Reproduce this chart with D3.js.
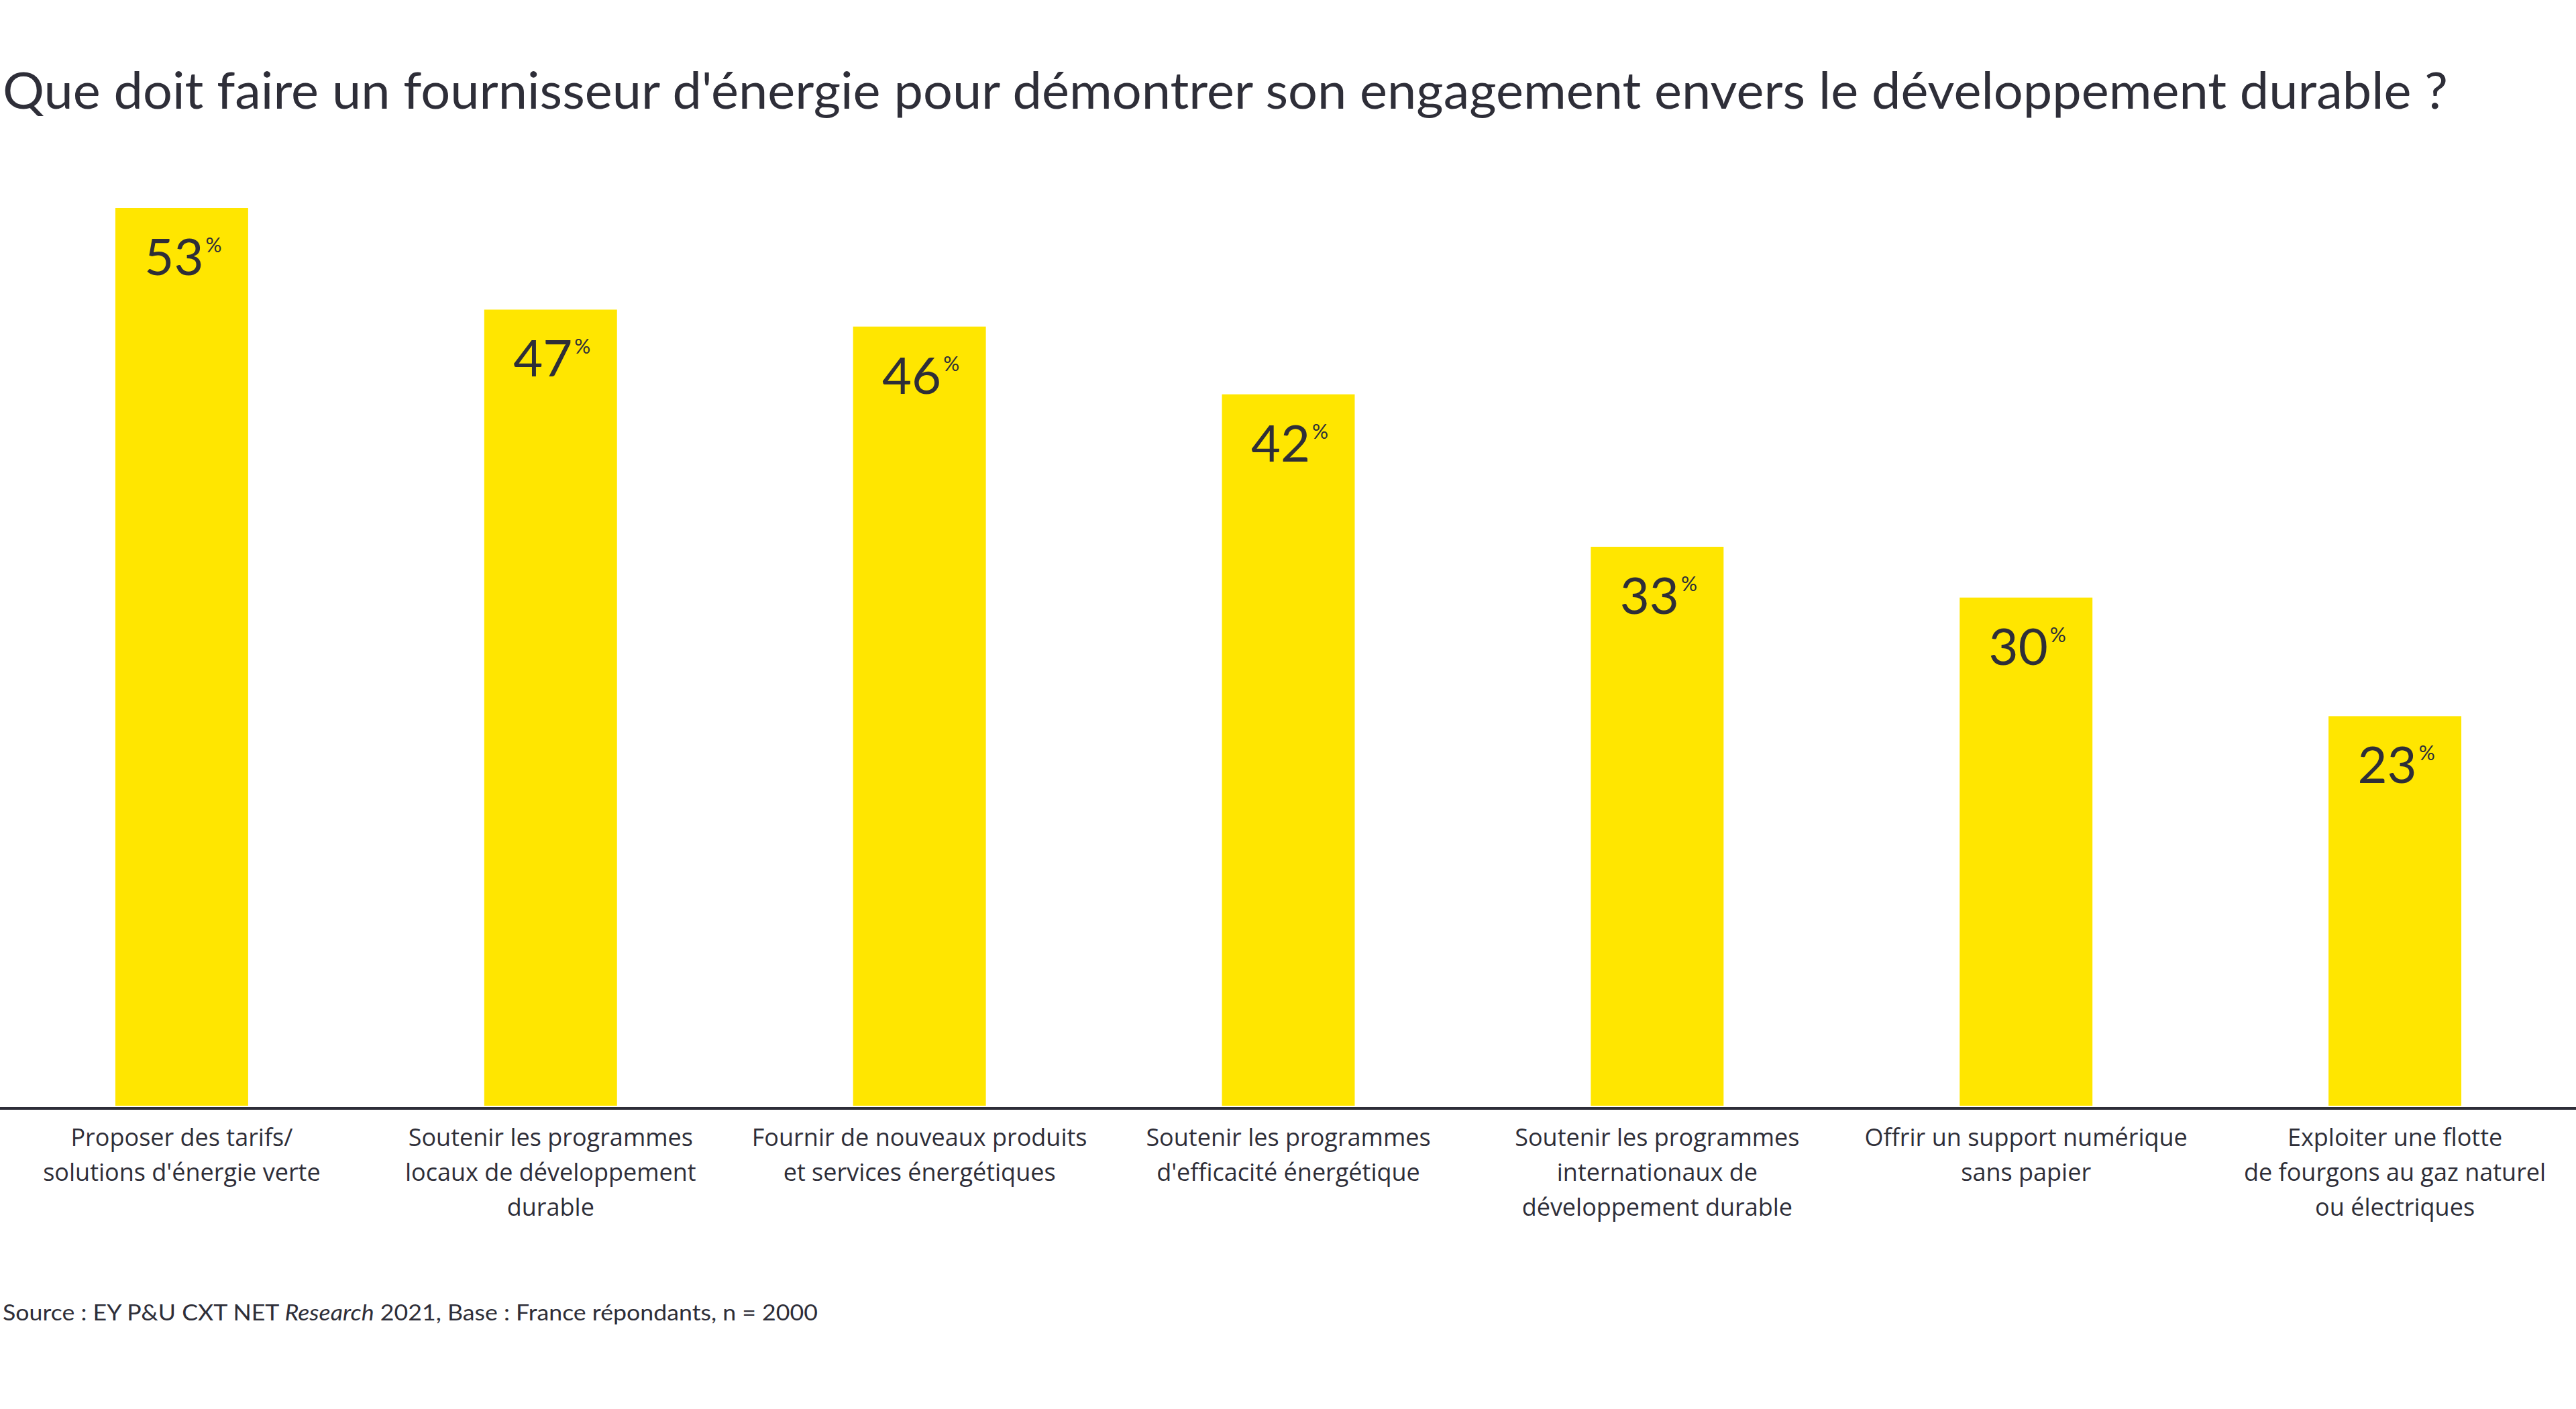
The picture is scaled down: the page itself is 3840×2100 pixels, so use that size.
<!DOCTYPE html>
<html>
<head>
<meta charset="utf-8">
<script src="https://cdn.jsdelivr.net/npm/d3@7"></script>
<style>
  html, body { margin: 0; padding: 0; background: #ffffff; }
  svg { display: block; }
</style>
</head>
<body>
<svg id="chart" width="3840" height="2100"></svg>
<script>
const titleText = "Que doit faire un fournisseur d'énergie pour démontrer son engagement envers le développement durable ?";
const categories = [
  ["Proposer des tarifs/", "solutions d'énergie verte"],
  ["Soutenir les programmes", "locaux de développement", "durable"],
  ["Fournir de nouveaux produits", "et services énergétiques"],
  ["Soutenir les programmes", "d'efficacité énergétique"],
  ["Soutenir les programmes", "internationaux de", "développement durable"],
  ["Offrir un support numérique", "sans papier"],
  ["Exploiter une flotte", "de fourgons au gaz naturel", "ou électriques"]
];
const values = [53, 47, 46, 42, 33, 30, 23];
const valueSuffix = "%";
const sourceParts = [
  {text: "Source : EY P&U CXT NET ", italic: false},
  {text: "Research", italic: true},
  {text: " 2021, Base : France répondants, n = 2000", italic: false}
];

const W = 3840, H = 2100;
const dark = "#2e2e38";
const yellow = "#ffe600";
const svg = d3.select("#chart");

const baseY = 1648;
const x = d3.scaleBand()
  .domain(d3.range(values.length))
  .range([-4, 3845])
  .paddingInner(0.64)
  .paddingOuter(0.32);
const y = d3.scaleLinear().domain([0, 53]).range([baseY, 310]);

// title
const title = svg.append("text")
  .attr("x", 4).attr("y", 162)
  .attr("font-family", "Lato, 'Liberation Sans', sans-serif")
  .attr("font-size", 76)
  .attr("fill", dark)
  .text(titleText);
{
  const w = title.node().getComputedTextLength();
  const target = 3645;
  if (Math.abs(w - target) > 5) title.attr("textLength", target).attr("lengthAdjust", "spacingAndGlyphs");
}

// bars
svg.append("g").selectAll("rect").data(values).join("rect")
  .attr("x", (d, i) => x(i))
  .attr("y", d => y(d))
  .attr("width", x.bandwidth())
  .attr("height", d => baseY - y(d))
  .attr("fill", yellow);

// value labels
const vl = svg.append("g").selectAll("text").data(values).join("text")
  .attr("x", (d, i) => x(i) + x.bandwidth() / 2 + 2)
  .attr("y", d => y(d) + 100)
  .attr("text-anchor", "middle")
  .attr("font-family", "Lato, 'Liberation Sans', sans-serif")
  .attr("fill", dark);
vl.append("tspan").attr("font-size", 76).text(d => d);
vl.append("tspan").attr("font-size", 30).attr("dx", 3).attr("dy", -34).text(valueSuffix);

// baseline
svg.append("line")
  .attr("x1", 0).attr("x2", W)
  .attr("y1", baseY + 4).attr("y2", baseY + 4)
  .attr("stroke", dark).attr("stroke-width", 4);

// category labels
const cl = svg.append("g").selectAll("text").data(categories).join("text")
  .attr("x", (d, i) => x(i) + x.bandwidth() / 2)
  .attr("y", 1708)
  .attr("text-anchor", "middle")
  .attr("font-family", "'Open Sans', 'Liberation Sans', sans-serif")
  .attr("font-weight", 500)
  .attr("font-size", 36)
  .attr("fill", dark);
cl.selectAll("tspan").data(d => d).join("tspan")
  .attr("x", function() { return d3.select(this.parentNode).attr("x"); })
  .attr("dy", (d, i) => i === 0 ? 0 : 52)
  .text(d => d);

// source
const src = svg.append("text")
  .attr("x", 4).attr("y", 1968)
  .attr("font-family", "Lato, 'Liberation Sans', sans-serif")
  .attr("font-size", 32)
  .attr("fill", dark);
src.selectAll("tspan").data(sourceParts).join("tspan")
  .attr("font-style", d => d.italic ? "italic" : "normal")
  .text(d => d.text);
{
  const w = src.node().getComputedTextLength();
  const target = 1215;
  if (Math.abs(w - target) > 5) src.attr("textLength", target).attr("lengthAdjust", "spacingAndGlyphs");
}
</script>
</body>
</html>
